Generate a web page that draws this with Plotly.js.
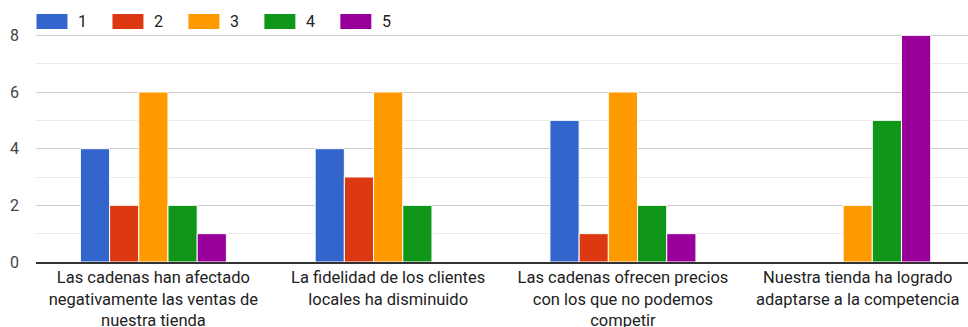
<!DOCTYPE html>
<html>
<head>
<meta charset="utf-8">
<script src="https://cdn.plot.ly/plotly-3.0.1.min.js"></script>
<style>
  html, body { margin: 0; padding: 0; background: #fff; overflow: hidden; }
  #chart { width: 968px; height: 327px; }
</style>
</head>
<body>
<div id="chart"></div>
<script>
// Survey statements (x categories)
const categories = [
  "Las cadenas han afectado<br>negativamente las ventas de<br>nuestra tienda",
  "La fidelidad de los clientes<br>locales ha disminuido",
  "Las cadenas ofrecen precios<br>con los que no podemos<br>competir",
  "Nuestra tienda ha logrado<br>adaptarse a la competencia"
];

// Rating names (1–5) and their colours
const seriesNames = ["1", "2", "3", "4", "5"];
const seriesColors = ["#3366cc", "#dc3912", "#ff9900", "#109618", "#990099"];

// Number of responses per rating, one array per rating
const rating1 = [4, 4, 5, 0];
const rating2 = [2, 3, 1, 0];
const rating3 = [6, 6, 6, 2];
const rating4 = [2, 2, 2, 5];
const rating5 = [1, 0, 1, 8];

const yTicks = [0, 2, 4, 6, 8];

const seriesValues = [rating1, rating2, rating3, rating4, rating5];
const idx = categories.map((_, i) => i);

const FONT = "Roboto, Arial, sans-serif";

const traces = seriesValues.map((vals, s) => ({
  type: "bar",
  name: seriesNames[s],
  x: idx,
  y: vals,
  marker: { color: seriesColors[s], line: { color: "#ffffff", width: 1 } },
  hoverinfo: "none",
  showlegend: false
}));

// Chart geometry
const W = 968, H = 327;
const mL = 35.5, mR = 0, mT = 7, mB = 65;
const plotW = W - mL - mR;
const slotPx = 234.9;
const xMax = -0.5 + plotW / slotPx;

// Legend drawn across the top: wide colour swatch followed by its label
const shapes = [];
const annotations = [];
const legX0 = 36, legStep = 76, swW = 31, swTop = 14, swH = 15;
seriesNames.forEach((name, i) => {
  const x0 = legX0 + i * legStep;
  shapes.push({
    type: "rect", xref: "paper", yref: "paper",
    x0: (x0 - mL) / plotW, x1: (x0 + swW - mL) / plotW,
    y0: 1 - (swTop + swH - mT) / (H - mT - mB),
    y1: 1 - (swTop - mT) / (H - mT - mB),
    fillcolor: seriesColors[i], line: { width: 0 }
  });
  annotations.push({
    xref: "paper", yref: "paper",
    x: (x0 + swW + 9 - mL) / plotW,
    y: 1 - (swTop + swH / 2 - mT) / (H - mT - mB),
    xanchor: "left", yanchor: "middle",
    text: name, showarrow: false,
    font: { family: FONT, size: 16, color: "#222" }
  });
});

const layout = {
  width: W, height: H,
  margin: { l: mL, r: mR, t: mT, b: mB },
  paper_bgcolor: "#ffffff",
  plot_bgcolor: "#ffffff",
  barmode: "group",
  bargap: 0.378,
  bargroupgap: 0,
  showlegend: false,
  font: { family: FONT, size: 16, color: "#222" },
  xaxis: {
    range: [-0.5, xMax],
    tickmode: "array",
    tickvals: idx,
    ticktext: categories,
    showgrid: false,
    zeroline: false,
    showline: true,
    linecolor: "#333333",
    linewidth: 1.5,
    ticks: "",
    ticklabelstandoff: 0,
    tickfont: { family: FONT, size: 16.5, color: "#222" },
    fixedrange: true
  },
  yaxis: {
    range: [0, 9],
    tickmode: "array",
    tickvals: yTicks,
    showgrid: true,
    gridcolor: "#cccccc",
    gridwidth: 1,
    minor: { dtick: 1, showgrid: true, gridcolor: "#ebebeb", gridwidth: 1 },
    zeroline: false,
    ticks: "",
    ticklabelstandoff: 16,
    tickfont: { family: FONT, size: 16, color: "#444" },
    fixedrange: true
  },
  shapes: shapes,
  annotations: annotations
};

Plotly.newPlot("chart", traces, layout, { displayModeBar: false, staticPlot: true });
</script>
</body>
</html>
